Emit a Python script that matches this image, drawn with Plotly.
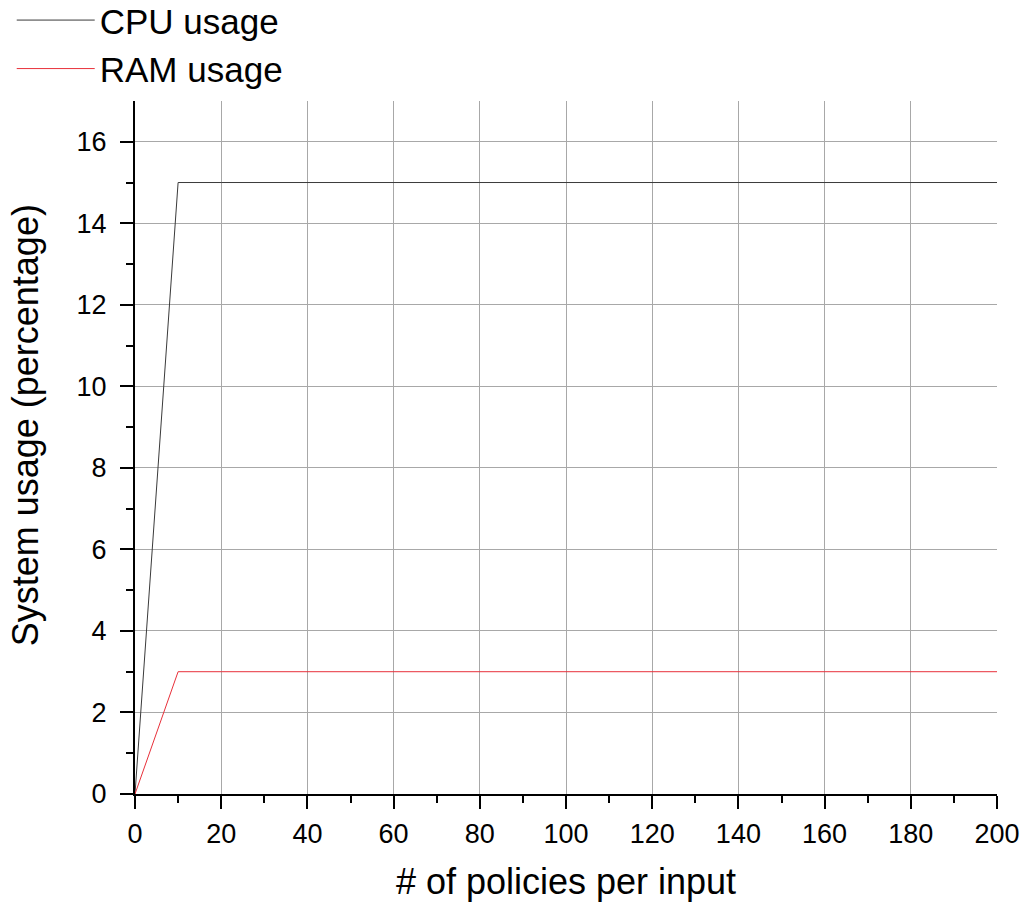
import plotly.graph_objects as go

policies = [0, 10, 20, 30, 40, 50, 60, 70, 80, 90, 100, 110, 120, 130, 140, 150, 160, 170, 180, 190, 200]
cpu_usage = [0, 15, 15, 15, 15, 15, 15, 15, 15, 15, 15, 15, 15, 15, 15, 15, 15, 15, 15, 15, 15]
ram_usage = [0, 3, 3, 3, 3, 3, 3, 3, 3, 3, 3, 3, 3, 3, 3, 3, 3, 3, 3, 3, 3]
x_ticks = [0, 20, 40, 60, 80, 100, 120, 140, 160, 180, 200]
y_ticks = [0, 2, 4, 6, 8, 10, 12, 14, 16]

fig = go.Figure()
fig.add_trace(go.Scatter(x=policies, y=cpu_usage, mode="lines", name="CPU usage",
                         line=dict(color="#3a3a3a", width=1)))
fig.add_trace(go.Scatter(x=policies, y=ram_usage, mode="lines", name="RAM usage",
                         line=dict(color="#e8303a", width=1)))

font = "Liberation Sans, Arial, sans-serif"
fig.update_layout(
    width=1029, height=907,
    margin=dict(l=135, r=32, t=101, b=113, autoexpand=False),
    plot_bgcolor="white", paper_bgcolor="white",
    font=dict(family=font, color="black"),
    showlegend=True,
    legend=dict(x=-0.143, y=1.159, xanchor="left", yanchor="top",
                font=dict(size=35, family=font), bgcolor="rgba(0,0,0,0)",
                tracegroupgap=0, itemwidth=78),
    xaxis=dict(range=[0, 200], tickvals=x_ticks, showgrid=True, gridcolor="#a8a8a8", gridwidth=1,
               showline=True, linecolor="black", linewidth=2, ticks="outside", ticklen=13,
               tickwidth=2, tickcolor="black", tickfont=dict(size=27), ticklabelstandoff=2,
               minor=dict(tickvals=[10, 30, 50, 70, 90, 110, 130, 150, 170, 190], ticks="outside",
                          ticklen=7, tickwidth=2, tickcolor="black", showgrid=False),
               title=dict(text="# of policies per input", font=dict(size=36), standoff=20),
               zeroline=False, automargin=False),
    yaxis=dict(range=[0, 17], tickvals=y_ticks, showgrid=True, gridcolor="#a8a8a8", gridwidth=1,
               showline=True, linecolor="black", linewidth=2, ticks="outside", ticklen=13,
               tickwidth=2, tickcolor="black", tickfont=dict(size=27), ticklabelstandoff=8,
               minor=dict(tickvals=[1, 3, 5, 7, 9, 11, 13, 15], ticks="outside",
                          ticklen=7, tickwidth=2, tickcolor="black", showgrid=False),
               zeroline=False, automargin=False),
    annotations=[dict(text="System usage (percentage)", textangle=-90, xref="paper", yref="paper",
                      x=-0.1276, y=0.532, xanchor="center", yanchor="middle", showarrow=False,
                      font=dict(size=36, family=font, color="black"))],
)

fig.write_html("out.html")
